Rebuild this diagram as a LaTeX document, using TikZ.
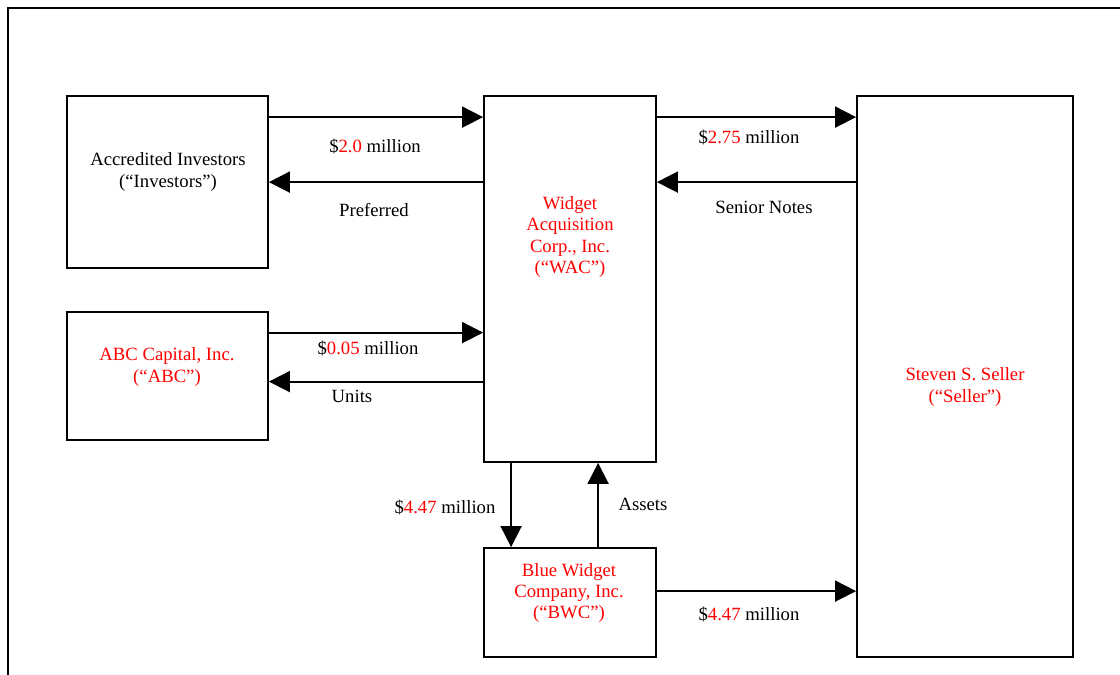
\documentclass[tikz,border=0pt]{standalone}
\usepackage{fontspec}
\setmainfont{Liberation Serif}
\usepackage{xcolor}
\usepackage{tikz}
\usetikzlibrary{arrows.meta}
\tikzset{>={Triangle[length=21pt,width=21pt]}}

\begin{document}
\begin{tikzpicture}[x=1pt, y=-1pt,
                          frame/.style={line width=2pt, black},
                          party/.style={draw, line width=1.8pt, black, inner sep=0pt},
                          txt/.style={align=center, inner sep=0pt, font=\fontsize{18.7}{21.3}\selectfont},
                          flow/.style={line width=1.8pt, black,->},
                         ]

\useasboundingbox (0,0) rectangle (1120,675);
\draw[frame] (8,675) -- (8,8) -- (1120,8);

% boxes
\node[party, minimum width=201pt, minimum height=172pt] (inv) at (167.5,182) {};
\node[party, minimum width=201pt, minimum height=128pt] (abc) at (167.5,376) {};
\node[party, minimum width=172pt, minimum height=366pt] (wac) at (570,279) {};
\node[party, minimum width=216pt, minimum height=561pt] (sel) at (965,376.5) {};
\node[party, minimum width=172pt, minimum height=109pt] (bwc) at (570,602.5) {};

\node[txt] (invtxt) at (168,172) {Accredited Investors\\(“Investors”)};
\node[txt, red] (abctxt) at (167,367) {ABC Capital, Inc.\\(“ABC”)};
\node[txt, red] (wactxt) at (570,237) {Widget\\Acquisition\\Corp., Inc.\\(“WAC”)};
\node[txt, red] (seltxt) at (965,387) {Steven S. Seller\\(“Seller”)};
\node[txt, red] (bwctxt) at (569,593) {Blue Widget\\Company, Inc.\\(“BWC”)};

% flows
\coordinate (i1) at ([yshift=-22pt]inv.north east);
\coordinate (i2) at ([yshift=-87pt]inv.north east);
\coordinate (a1) at ([yshift=-21.5pt]abc.north east);
\coordinate (a2) at ([yshift=-70.5pt]abc.north east);
\coordinate (w1) at ([yshift=-22pt]wac.north east);
\coordinate (w2) at ([yshift=-87pt]wac.north east);
\coordinate (b1) at ([yshift=-44pt]bwc.north east);
\coordinate (d1) at ([xshift=28pt]wac.south west);
\coordinate (u1) at ([xshift=115pt]bwc.north west);

\draw[flow] (i1) -- (i1 -| wac.west);
\draw[flow] (i2 -| wac.west) -- (i2);
\draw[flow] (a1) -- (a1 -| wac.west);
\draw[flow] (a2 -| wac.west) -- (a2);
\draw[flow] (w1) -- (w1 -| sel.west);
\draw[flow] (w2 -| sel.west) -- (w2);
\draw[flow] (b1) -- (b1 -| sel.west);
\draw[flow] (d1) -- (d1 |- bwc.north);
\draw[flow] (u1) -- (u1 |- wac.south);

% labels
\node[txt] (l1) at (375,146) {\$\textcolor{red}{2.0} million};
\node[txt] (l2) at (374,210) {Preferred};
\node[txt] (l3) at (368,348) {\$\textcolor{red}{0.05} million};
\node[txt] (l4) at (352,396) {Units};
\node[txt] (l5) at (749,137) {\$\textcolor{red}{2.75} million};
\node[txt] (l6) at (764,207) {Senior Notes};
\node[txt] (l7) at (445,507) {\$\textcolor{red}{4.47} million};
\node[txt] (l8) at (643,504) {Assets};
\node[txt] (l9) at (749,614) {\$\textcolor{red}{4.47} million};

\end{tikzpicture}
\end{document}
